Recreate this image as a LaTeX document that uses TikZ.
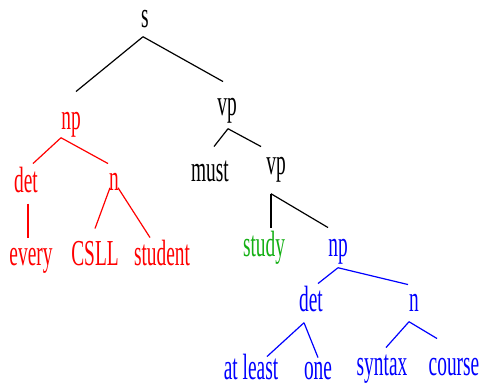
\documentclass[tikz,border=0pt]{standalone}
\usepackage{fontspec}
\setmainfont[FakeStretch=0.53]{Liberation Serif}
\usepackage{tikz}
\usetikzlibrary{calc}
\definecolor{studygreen}{RGB}{20,175,20}

\begin{document}
\begin{tikzpicture}[x=0.025cm, y=-0.025cm,
        every node/.style={anchor=base, inner sep=0.7pt, text height=18.4pt, text depth=5.8pt,
            font=\fontsize{26}{30}\selectfont},
        every path/.style={line width=0.85pt}]
        \useasboundingbox (0,0) rectangle (481,386);

        \node (s) at (145,28) {s};

        \node[red] (np1) at (71,130) {np};
        \node (vp1) at (227,116) {vp};

        \node[red] (det1) at (26,193) {det};
        \node[red] (n1)   at (114,191) {n};
        \node (must) at (210,182) {must};
        \node (vp2)  at (276,175) {vp};

        \node[red] (every)   at (31,266)  {every};
        \node[red] (csll)    at (95,266)  {CSLL};
        \node[red] (student) at (162,266) {student};
        \node[studygreen] (study) at (264,257) {study};
        \node[blue] (np2) at (338,257) {np};

        \node[blue] (det2) at (311,312) {det};
        \node[blue] (n2)   at (414,312) {n};

        \node[blue, text depth=0pt] (atleast) at (251,380) {at least};
        \node[blue, text depth=0pt] (one)     at (318,380) {one};
        \node[blue] (syntax)  at (382,376) {syntax};
        \node[blue] (course)  at (454,376) {course};

        % s
        \draw ($(s.south)+(-2,-1)$) -- ($(np1.north)+(5,-11)$);
        \draw ($(s.south)+(-2,-1)$) -- ($(vp1.north)+(-4,-7)$);
        % red np
        \draw[red] ($(np1.south)+(-10,-2)$) -- ($(det1.north)+(7,-2)$);
        \draw[red] ($(np1.south)+(-10,-2)$) -- ($(n1.north)+(-6,0)$);
        \draw[red] ($(det1.south)+(2,1)$) -- ($(every.north)+(-3,-1)$);
        \draw[red] ($(n1.south)+(-4,-13)$) -- ($(csll.north)+(0,-10)$);
        \draw[red] ($(n1.south)+(4,-13)$) -- ($(student.north)+(-12,-1)$);
        % vp
        \draw ($(vp1.south)+(1,3)$) -- ($(must.north)+(4,-8)$);
        \draw ($(vp1.south)+(1,3)$) -- ($(vp2.north)+(-15,-1)$);
        \draw ($(vp2.south)+(-5,9)$) -- ($(study.north)+(7,-2)$);
        \draw ($(vp2.south)+(-5,9)$) -- ($(np2.north)+(-10,-2)$);
        % blue np
        \draw[blue] ($(np2.south)+(0,1)$) -- ($(det2.north)+(7,-1)$);
        \draw[blue] ($(np2.south)+(0,1)$) -- ($(n2.north)+(-6,0)$);
        \draw[blue] ($(det2.south)+(-7,1)$) -- ($(atleast.north)+(16,4)$);
        \draw[blue] ($(det2.south)+(-7,1)$) -- ($(one.north)+(0,5)$);
        \draw[blue] ($(n2.south)+(-5,0)$) -- ($(syntax.north)+(4,-1)$);
        \draw[blue] ($(n2.south)+(-5,0)$) -- ($(course.north)+(-17,-10)$);
    \end{tikzpicture}
\end{document}
